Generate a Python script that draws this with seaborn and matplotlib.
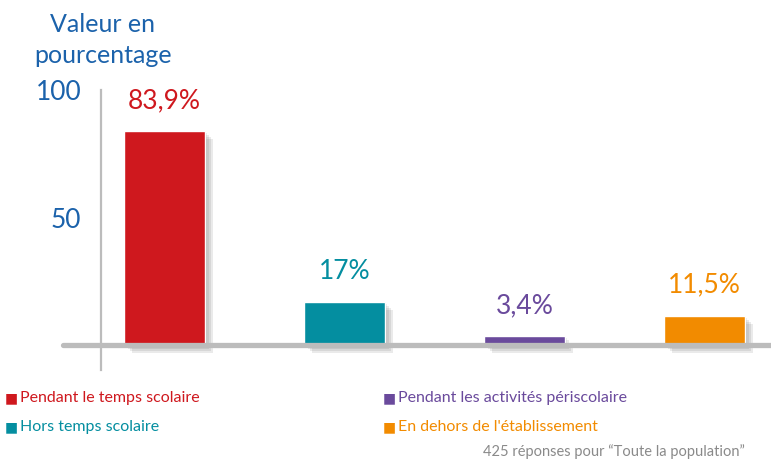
"""
Bar chart: valeur en pourcentage par moment
"""
import seaborn as sns
import pandas as pd
import matplotlib.pyplot as plt
import matplotlib.patheffects as pe

# Data.
categories = ["Pendant le temps scolaire", "Hors temps scolaire",
              "Pendant les activités périscolaire", "En dehors de l'établissement"]
values = [83.9, 17.0, 3.4, 11.5]
value_labels = ["83,9%", "17%", "3,4%", "11,5%"]
colors = ["#cf181e", "#048ea0", "#6a4a9c", "#f28b00"]
ytick_values = [50, 100]

BLUE = "#1b62ab"
GRAY = "#bcbcbc"

df = pd.DataFrame({"cat": categories, "val": values})

sns.set_theme(style="white")
plt.rcParams["font.family"] = ["Lato", "DejaVu Sans"]

fig = plt.figure(figsize=(7.71, 4.61), dpi=100)
ax = fig.add_axes([101 / 771, 86 / 461, 670 / 771, 290 / 461])

sns.barplot(data=df, x="cat", y="val", hue="cat", palette=colors,
            width=0.45, legend=False, ax=ax, saturation=1)

# Soft drop shadow under the bars.
shadow = [pe.SimplePatchShadow(offset=(o, -o), shadow_rgbFace="#555555", alpha=0.12)
          for o in (1.5, 3, 4.5, 6)]
for bar in ax.patches:
    bar.set_path_effects(shadow + [pe.Normal()])

# Value labels above each bar.
for i, (v, lbl) in enumerate(zip(values, value_labels)):
    ax.text(i, v + 7, lbl, ha="center", va="bottom", fontsize=19, color=colors[i])

ax.set_xlim(-0.35, 3.369)
ax.set_ylim(-11.8, 102)

# Axis lines.
ax.axhline(0, xmin=-0.056, xmax=1, color=GRAY, linewidth=3.8, clip_on=False, zorder=5)
for s in ["top", "right", "bottom"]:
    ax.spines[s].set_visible(False)
ax.spines["left"].set_color(GRAY)
ax.spines["left"].set_linewidth(1.6)
ax.spines["left"].set_bounds(-9.8, 100)

ax.set_xticks([])
ax.set_yticks(ytick_values)
ax.set_yticklabels([str(t) for t in ytick_values])
ax.tick_params(axis="y", length=0, pad=14, labelsize=19, labelcolor=BLUE)
ax.set_xlabel("")
ax.set_ylabel("")

# Y-axis title.
fig.text(103 / 771, 1 - 40 / 461, "Valeur en\npourcentage", ha="center", va="center",
         fontsize=18, color=BLUE, linespacing=1.45)

# Legend, two columns.
leg_pos = [(5, 398), (5, 427), (383, 398), (383, 427)]
for (px, py), cat, col in zip(leg_pos, categories, colors):
    fig.text(px / 771, 1 - py / 461, "■", ha="left", va="center",
             fontsize=10, color=col, family=["DejaVu Sans"])
    fig.text((px + 15) / 771, 1 - py / 461, cat, ha="left", va="center",
             fontsize=11.5, color=col)

fig.text(745 / 771, 1 - 452 / 461, "425 réponses pour “Toute la population”",
         ha="right", va="center", fontsize=10.5, color="#8a8a8a")

plt.savefig("out.png", dpi=100)
